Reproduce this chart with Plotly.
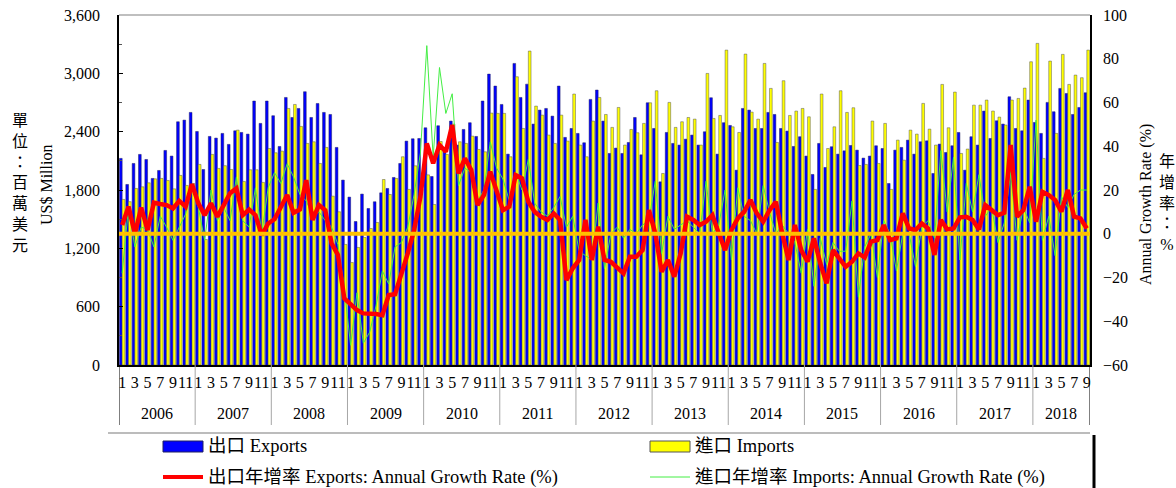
import plotly.graph_objects as go

# ---------------------------------------------------------------------------------------------------------------------------------------------------
# Monthly exports / imports (US$ million) and annual growth rates (%), Jan 2006 - Sep 2018
# ---------------------------------------------------------------------------------------------------------------------------------------------------

years = [2006, 2007, 2008, 2009, 2010, 2011, 2012, 2013, 2014, 2015, 2016, 2017, 2018]
months_in_year = [12, 12, 12, 12, 12, 12, 12, 12, 12, 12, 12, 12, 9]

exports = [
    2125, 1857, 2073, 2166, 2114, 1919, 2001, 2207, 2149, 2502, 2519, 2598,
    2402, 2011, 2351, 2334, 2382, 2269, 2409, 2392, 2375, 2715, 2485, 2715,
    2564, 2248, 2752, 2546, 2639, 2811, 2546, 2690, 2598, 2577, 2238, 1902,
    1727, 1476, 1758, 1610, 1679, 1771, 1816, 1929, 2073, 2303, 2327, 2330,
    2440, 1939, 2461, 2217, 2509, 2262, 2423, 2492, 2351, 2715, 2992, 2869,
    2680, 2169, 3102, 2752, 2889, 2478, 2622, 2639, 2560, 2869, 2341, 2433,
    2382, 2286, 2732, 2828, 2509, 2176, 2231, 2176, 2289, 2546, 2162, 2697,
    2433, 1884, 2392, 2279, 2262, 2323, 2365, 2262, 2399, 2749, 2169, 2492,
    2464, 2004, 2639, 2622, 2433, 2433, 2598, 2577, 2433, 2406, 2248, 2348,
    2149, 1960, 2279, 2032, 2245, 2169, 2203, 2258, 2210, 2128, 2149, 2255,
    2227, 1867, 2210, 2238, 2313, 2169, 2296, 2306, 1970, 2272, 2186, 2255,
    2392, 2004, 2348, 2262, 2612, 2330, 2512, 2478, 2759, 2433, 2409, 2725,
    2495, 2382, 2701, 2605, 2845, 2793, 2577, 2649, 2800,
]

imports = [
    1703, 1680, 1816, 1833, 1874, 1915, 1919, 1898, 1812, 1950, 1847, 1867,
    2063, 1291, 2166, 2022, 2050, 2011, 2416, 1888, 2008, 2008, 1878, 2227,
    2183, 2200, 2639, 2680, 2454, 2279, 2296, 2073, 2238, 1737, 1576, 1240,
    1054, 1209, 1312, 1404, 1466, 1908, 1754, 1919, 2142, 1806, 2049, 1806,
    1956, 1651, 2299, 2166, 2478, 2296, 2279, 2354, 2217, 2193, 2591, 2588,
    2588, 2142, 2965, 2433, 3229, 2663, 2570, 2365, 2279, 2570, 2303, 2787,
    2262, 2142, 2509, 2752, 2577, 2444, 2649, 2262, 2423, 2389, 2485, 2697,
    2821, 1970, 2701, 2444, 2502, 2546, 2529, 2262, 2999, 2536, 2567, 3239,
    2450, 2392, 3198, 2601, 2529, 3102, 2845, 2289, 2924, 2567, 2612, 2639,
    2553, 1806, 2787, 2227, 2450, 2821, 2598, 2646, 2052, 2063, 2509, 2073,
    2485, 1806, 2313, 2107, 2416, 2375, 2691, 2426, 2262, 2886, 2440, 2807,
    2176, 2221, 2673, 2673, 2725, 2612, 2550, 2468, 2725, 2742, 2848, 3119,
    3308, 2125, 3126, 2382, 3195, 2886, 2982, 2955, 3239,
]

exports_growth = [
    4, 12.4, 0, 12, 1.7, 14.2, 13.6, 13.1, 11.6, 15, 12.4, 22.7,
    13.9, 8.5, 13.9, 7.8, 13.1, 18.5, 20.7, 8.5, 11.1, 8.5, -0.6, 4.7,
    6.6, 12.4, 17.7, 9.6, 11.1, 24.5, 6.3, 13.1, 10.8, -4.4, -9.7, -29.6,
    -32.6, -34.9, -36.4, -36.4, -36.7, -37.2, -28, -27.6, -18.9, -9, 1.7, 16.9,
    41.3, 32.2, 40.6, 37.5, 49.7, 27.6, 34.5, 29.1, 13.1, 17.7, 28.4, 20,
    10.8, 12.4, 26.8, 25.3, 14.6, 10, 7.8, 6.3, 9.3, 6.3, -21.2, -15.8,
    -12, 6.3, -12, 3.2, -12, -12.8, -15.8, -18.1, -10.5, -10.5, -7.5, 10.8,
    0.2, -17.4, -12, -19.6, -9, 7.8, 6.3, 4, 5.5, 8.5, 0.2, -7.5,
    1.7, 7, 10, 15.4, 9.3, 5.5, 10.8, 14.6, 0.2, -12, 4, -7.5,
    -12.8, -2.1, -13.5, -22.7, -7.5, -11.3, -15.1, -12.8, -9, -10.8, -3.6, -2.9,
    4, -2.9, -2.1, 9.3, 2.4, 1.7, 4.7, 2.4, -9.7, 6.3, 2, 2.4,
    7.5, 7.8, 6.3, 2, 13.1, 10.8, 8.5, 9.6, 40.6, 7.8, 10.8, 21.5,
    5.5, 19.2, 17.7, 15.4, 10.1, 20, 7.8, 7, 2.4,
]

imports_growth = [
    -18, 12, -6, 3, 2, -6, 8, 3, -3, 3, 9, 21,
    12, -3, 20, 6, 12, 6, 26, 6, 3, 21, 0, 21,
    28, 23, 32, 26, 18, 15, 8, 10, 6, 3, -5, -25,
    -51, -27, -50, -45, -33, -17, -23, -6, -4, 3, 18, 37,
    86, 35, 76, 55, 64, 22, 30, 28, 15, 20, 42, 30,
    25, 15, 28, 20, 34, 14, 10, 8, 12, 17, 3, 8,
    -8, -10, -12, 14, -16, 0, 3, -2, 2, 0, 4, 6,
    24, -9, 8, 2, 4, 6, 3, 0, 24, 0, 4, 20,
    -12, 21, 8, 6, 0, 22, 10, 0, 4, 0, -4, -18,
    2, -24, -2, -14, -4, -8, -8, 15, -29, -6, 0, -20,
    6, 0, -17, 0, 0, -15, 3, 6, -2, 38, 10, 35,
    -12, 23, 10, 27, 8, 12, -4, 5, 28, -3, 12, 5,
    52, -3, 8, -10, 17, 12, 18, 20, 20,
]

months = list(range(len(exports)))
month_ticks = [m for m in months if m % 2 == 0]
month_labels = [str(m % 12 + 1) for m in month_ticks]

FONT = "Liberation Serif, Noto Sans CJK TC, serif"


def px_x(x):
    # pixel x -> paper x (plot area runs 119..1090)
    return (x - 119) / 971


def px_y(y):
    # pixel y -> paper y (plot area runs 15..365)
    return (365 - y) / 350


fig = go.Figure()
fig.add_trace(go.Bar(x=months, y=exports, name="出口 Exports",
                     marker=dict(color="#0000FF", line=dict(color="#202060", width=0.5))))
fig.add_trace(go.Bar(x=months, y=imports, name="進口 Imports",
                     marker=dict(color="#FFFF00", line=dict(color="#555555", width=0.5))))
fig.add_trace(go.Scatter(x=months, y=imports_growth, yaxis="y2", mode="lines",
                         name="進口年增率 Imports: Annual Growth Rate (%)",
                         line=dict(color="#44EE44", width=1)))
fig.add_trace(go.Scatter(x=months, y=exports_growth, yaxis="y2", mode="lines",
                         name="出口年增率 Exports: Annual Growth Rate (%)",
                         line=dict(color="#FF0000", width=4.5)))

shapes = []
annotations = []

# zero growth line
shapes.append(dict(type="line", xref="paper", x0=0, x1=1, yref="y2", y0=0, y1=0,
                   line=dict(color="#FFC000", width=4), layer="above"))
# top border
shapes.append(dict(type="line", xref="paper", x0=0, x1=1, yref="paper", y0=1, y1=1,
                   line=dict(color="#BFBFBF", width=2)))

# year separators and year labels
start = 0
for yr, cnt in zip(years, months_in_year):
    shapes.append(dict(type="line", xref="x", x0=start - 0.5, x1=start - 0.5, yref="paper", y0=0, y1=px_y(425),
                       line=dict(color="#000000" if start == 0 else "#A6A6A6", width=1)))
    annotations.append(dict(x=start + (cnt - 1) / 2, y=px_y(413), xref="x", yref="paper", text=str(yr),
                            xanchor="center", yanchor="middle", showarrow=False, font=dict(size=16)))
    start += cnt
shapes.append(dict(type="line", xref="x", x0=start - 0.5, x1=start - 0.5, yref="paper", y0=0, y1=px_y(425),
                   line=dict(color="#000000", width=1)))

# line under the axis block
shapes.append(dict(type="line", xref="paper", x0=px_x(108), x1=1, yref="paper", y0=px_y(433), y1=px_y(433),
                   line=dict(color="#A6A6A6", width=1.5)))

# legend (drawn by hand to match the wide swatches)
shapes.append(dict(type="rect", xref="paper", yref="paper", x0=px_x(163), x1=px_x(203), y0=px_y(452), y1=px_y(441),
                   fillcolor="#0000FF", line=dict(color="#202060", width=1)))
shapes.append(dict(type="rect", xref="paper", yref="paper", x0=px_x(650), x1=px_x(690), y0=px_y(452), y1=px_y(441),
                   fillcolor="#FFFF00", line=dict(color="#555555", width=1)))
shapes.append(dict(type="line", xref="paper", yref="paper", x0=px_x(163), x1=px_x(203), y0=px_y(477), y1=px_y(477),
                   line=dict(color="#FF0000", width=4)))
shapes.append(dict(type="line", xref="paper", yref="paper", x0=px_x(650), x1=px_x(690), y0=px_y(477), y1=px_y(477),
                   line=dict(color="#44EE44", width=1)))
shapes.append(dict(type="line", xref="paper", yref="paper", x0=px_x(1094), x1=px_x(1094), y0=px_y(435), y1=px_y(488),
                   line=dict(color="#000000", width=3)))

legend_texts = [
    (206, 446, "出口 Exports"),
    (693, 446, "進口 Imports"),
    (206, 477, "出口年增率 Exports: Annual Growth Rate (%)"),
    (693, 477, "進口年增率 Imports: Annual Growth Rate (%)"),
]
for lx, ly, txt in legend_texts:
    annotations.append(dict(x=px_x(lx), y=px_y(ly), xref="paper", yref="paper", text=txt, showarrow=False,
                            xanchor="left", yanchor="middle", font=dict(size=18.5)))

# axis titles
annotations.append(dict(x=px_x(20), y=px_y(183), xref="paper", yref="paper", xanchor="center", yanchor="middle",
                        text="單<br>位<br>：<br>百<br>萬<br>美<br>元", showarrow=False, font=dict(size=16)))
annotations.append(dict(x=px_x(46), y=px_y(185), xref="paper", yref="paper", xanchor="center", yanchor="middle",
                        text="US$ Million", textangle=-90, showarrow=False, font=dict(size=16)))
annotations.append(dict(x=px_x(1146), y=px_y(205), xref="paper", yref="paper", xanchor="center", yanchor="middle",
                        text="Annual Growth Rate (%)", textangle=-90, showarrow=False, font=dict(size=16)))
annotations.append(dict(x=px_x(1167), y=px_y(203), xref="paper", yref="paper", xanchor="center", yanchor="middle",
                        text="年<br>增<br>率<br>：<br>%", showarrow=False, font=dict(size=16)))

fig.update_layout(
    width=1176, height=488, autosize=False,
    margin=dict(l=119, r=86, t=15, b=123, autoexpand=False),
    paper_bgcolor="white", plot_bgcolor="white",
    font=dict(family=FONT, color="#000000", size=16),
    showlegend=False,
    barmode="group", bargap=0.15, bargroupgap=0,
    xaxis=dict(range=[-0.5, len(months) - 0.5], tickmode="array", tickvals=month_ticks, ticktext=month_labels,
               tickangle=0, ticks="", showline=True, linecolor="#000000", linewidth=1.5, automargin=False,
               showgrid=False, zeroline=False, tickfont=dict(size=16), ticklabelstandoff=2),
    yaxis=dict(range=[0, 3600], dtick=600, tickformat=",", showline=True, linecolor="#000000", linewidth=1.5,
               ticks="inside", ticklen=4, tickcolor="#000000", showgrid=False, zeroline=False, automargin=False,
               minor=dict(dtick=300, ticks="inside", ticklen=3, tickcolor="#555555"),
               tickfont=dict(size=16), ticklabelstandoff=14),
    yaxis2=dict(range=[-60, 100], dtick=20, overlaying="y", side="right", showline=True, linecolor="#000000",
                linewidth=1.5, ticks="", showgrid=False, zeroline=False, tickfont=dict(size=16), automargin=False,
                ticklabelstandoff=8),
    shapes=shapes,
    annotations=annotations,
)

fig.write_html("out.html", config={"displayModeBar": False},
               post_script="document.body.style.margin = '0px';")
